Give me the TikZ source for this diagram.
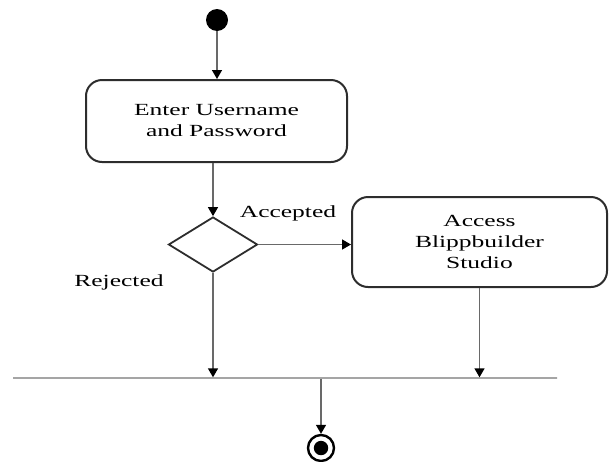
\documentclass[tikz,border=0pt]{standalone}
\usepackage{fontspec}
\usetikzlibrary{arrows.meta,positioning,shapes.geometric}
\newfontfamily\diagfont[FakeStretch=1.5]{Liberation Serif}
\definecolor{EdgeDark}{RGB}{45,45,45}
\definecolor{WireGray}{RGB}{105,105,105}
\definecolor{BarGray}{RGB}{165,165,165}

\begin{document}
\begin{tikzpicture}[
   x=0.5pt,y=-0.5pt,
   font=\diagfont\fontsize{8.5}{10.5}\selectfont,
   act/.style={rectangle,rounded corners=8pt,draw=EdgeDark,line width=1pt,
               fill=white,align=center},
   decide/.style={diamond,draw=EdgeDark,line width=0.9pt,inner sep=0pt,
               minimum width=44.5pt,minimum height=27.5pt},
   initnode/.style={circle,fill=black,inner sep=0pt,minimum size=11pt},
   finalnode/.style={circle,draw=black,line width=1.2pt,inner sep=0pt,minimum size=13pt,
               path picture={\fill[black] (path picture bounding box.center) circle (3.6pt);}},
   joinbar/.style={rectangle,draw=BarGray,line width=0.7pt,inner sep=0pt,
               minimum height=0pt,minimum width=272pt},
   arr/.style={-{Triangle[length=4.5pt,width=5pt,black]},line width=0.7pt,WireGray}]
   \useasboundingbox (0,0) rectangle (613,461);
   \node[initnode] (start) at (217,20) {};
   \node[act,minimum width=130.5pt,minimum height=41pt] (login) at (216.5,121) {Enter Username\\and Password};
   \node[decide] (check) at (213,244.5) {};
   \node[act,minimum width=127.5pt,minimum height=45pt] (studio) at (479.5,242) {Access\\Blippbuilder\\Studio};
   \node[joinbar] (join) at (285,378) {};
   \node[finalnode] (stop) at (321,448) {};
   \draw[arr] (start) -- (start |- login.north);
   \draw[arr] (check.north |- login.south) -- (check.north);
   \draw[arr] (check.east) -- (check.east -| studio.west);
   \draw[arr] (check.south) -- (check.south |- join.north);
   \draw[arr] (studio.south) -- (studio.south |- join.north);
   \draw[arr] (join.south -| stop.north) -- (stop.north);
   \node at (288,213) {Accepted};
   \node at (119,282) {Rejected};
\end{tikzpicture}
\end{document}
